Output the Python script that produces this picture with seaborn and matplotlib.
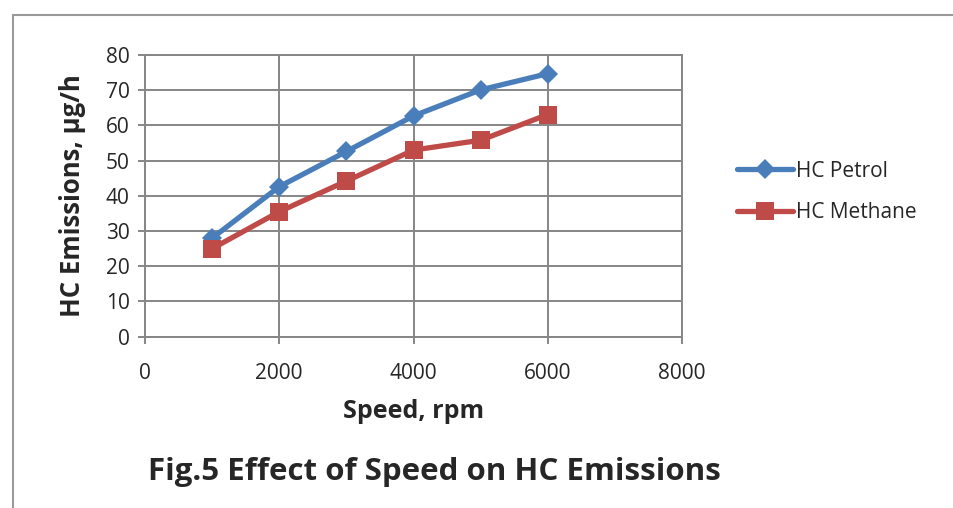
import matplotlib
matplotlib.use("Agg")
import matplotlib.pyplot as plt
import seaborn as sns
import pandas as pd
from matplotlib.lines import Line2D

speed = [1000, 2000, 3000, 4000, 5000, 6000]
hc_petrol = [28.0, 42.6, 52.6, 62.7, 70.1, 74.7]
hc_methane = [25.0, 35.5, 44.2, 53.0, 55.8, 63.1]
series_names = ["HC Petrol", "HC Methane"]
x_ticks = [0, 2000, 4000, 6000, 8000]
y_ticks = [0, 10, 20, 30, 40, 50, 60, 70, 80]

df = pd.DataFrame({
    "speed": speed * 2,
    "hc": hc_petrol + hc_methane,
    "series": [series_names[0]] * len(speed) + [series_names[1]] * len(speed),
})

sns.set_theme(style="white")
FONT = ["Open Sans", "DejaVu Sans"]
plt.rcParams["font.family"] = FONT

fig = plt.figure(figsize=(9.54, 5.08), dpi=100)
ax = fig.add_axes([145/954, 1 - 336.7/508, (682-145)/954, (336.7-55)/508])

colors = {"HC Petrol": "#4A7EBB", "HC Methane": "#BE4B48"}
markers = {"HC Petrol": "D", "HC Methane": "s"}
sizes = {"HC Petrol": 10.5, "HC Methane": 12.5}

for name in series_names:
    sub = df[df["series"] == name]
    sns.lineplot(data=sub, x="speed", y="hc", ax=ax, color=colors[name],
                 linewidth=3.8, marker=markers[name], markersize=sizes[name],
                 markeredgewidth=0, legend=False, zorder=3)

ax.set_xlim(0, 8000)
ax.set_ylim(0, 80)
ax.set_xticks(x_ticks)
ax.set_yticks(y_ticks)
ax.grid(True, color="#868686", linewidth=1.4)
for s in ax.spines.values():
    s.set_color("#868686")
    s.set_linewidth(1.4)
ax.tick_params(axis="both", which="both", direction="out", length=5,
               width=1.4, color="#868686", labelsize=15, pad=6,
               left=True, bottom=True)
ax.tick_params(axis="x", pad=14)
ax.set_xlabel("Speed, rpm", fontsize=18, fontweight="bold", labelpad=11)
ax.set_ylabel("HC Emissions, µg/h", fontsize=18.5, fontweight="bold", labelpad=14)

handles = [Line2D([0], [0], color=colors[n], linewidth=3.8, marker=markers[n],
                  markersize=sizes[n], markeredgewidth=0) for n in series_names]
fig.legend(handles, series_names, loc="center left",
           bbox_to_anchor=(718/954, 1 - 192/508), frameon=False,
           fontsize=15, handlelength=2.7, handletextpad=0.15, labelspacing=1.0)

fig.text(434/954, 1 - 472/508, "Fig.5 Effect of Speed on HC Emissions",
         ha="center", va="center", fontsize=22.5, fontweight="bold")

# outer border (cropped chart frame)
fig.add_artist(Line2D([13/954, 13/954], [0, 1 - 15/508], color="#9a9a9a", linewidth=1.5,
                      transform=fig.transFigure))
fig.add_artist(Line2D([13/954, 1], [1 - 15/508, 1 - 15/508], color="#9a9a9a", linewidth=1.5,
                      transform=fig.transFigure))

fig.savefig("out.png", dpi=100)
